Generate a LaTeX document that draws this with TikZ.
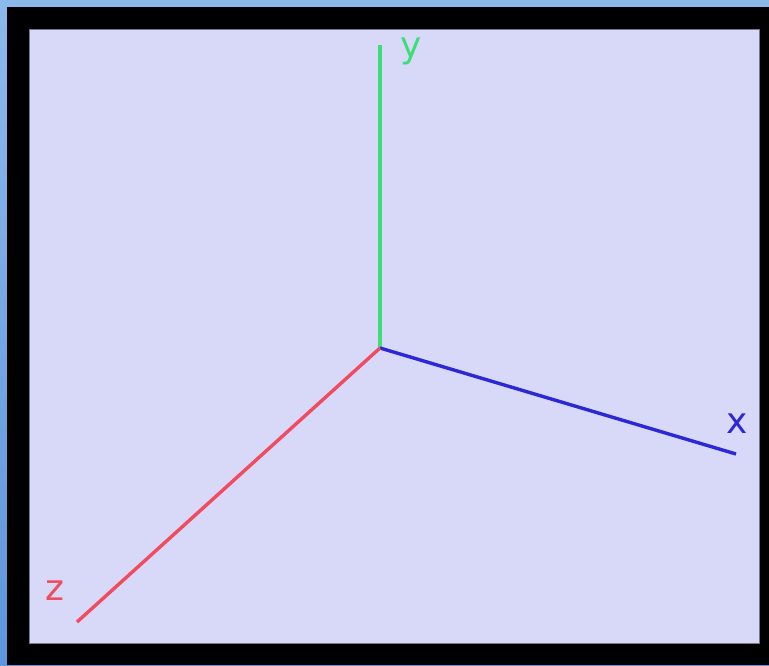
\documentclass[tikz,border=0pt]{standalone}
\usepackage{fontspec}
\setmainfont{DejaVu Sans}
\definecolor{bgblue}{RGB}{92,150,220}
\definecolor{bglight}{RGB}{140,185,235}
\definecolor{lav}{RGB}{216,216,248}
\definecolor{framegray}{RGB}{120,120,140}
\definecolor{axgreen}{RGB}{60,222,120}
\definecolor{axblue}{RGB}{45,40,215}
\definecolor{axred}{RGB}{240,75,95}
\begin{document}
\begin{tikzpicture}[x=1pt,y=-1pt,
  axis/.style={line width=3.4pt},
  lbl/.style={anchor=base,inner sep=0pt,font=\fontsize{36}{40}\selectfont}]
\useasboundingbox (0,0) rectangle (769,665);
\shade[top color=bglight,bottom color=bgblue] (0,0) rectangle (769,665);
\fill[black] (7,7) rectangle (769,665);
\fill[lav,draw=framegray,line width=0.8pt] (29,29) rectangle (759,643);
\coordinate (o) at (380,348);
\coordinate (ye) at (380,45);
\coordinate (xe) at (736,454);
\coordinate (ze) at (77,622);
\draw[axis,axgreen,line width=4.2pt] (o) -- (ye);
\draw[axis,axblue] (o) -- (xe);
\draw[axis,axred] (o) -- (ze);
\node[lbl,text=axgreen] (ylab) at (411,57) {y};
\node[lbl,text=axblue] (xlab) at (737,433) {x};
\node[lbl,text=axred] (zlab) at (55,600) {z};
\end{tikzpicture}
\end{document}
